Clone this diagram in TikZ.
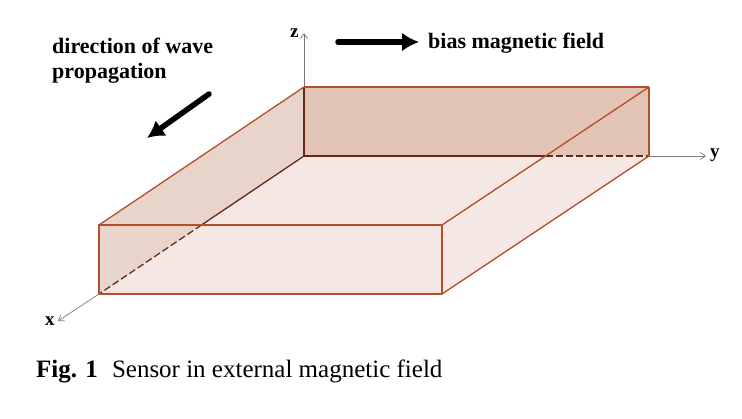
\documentclass[tikz,border=0pt]{standalone}
\usepackage{fontspec}
\setmainfont{Liberation Serif}
\usetikzlibrary{arrows.meta,calc}
\definecolor{edgebrown}{RGB}{180,80,40}
\definecolor{darkbrown}{RGB}{105,40,20}
\definecolor{lightface}{RGB}{245,232,228}
\definecolor{sideface}{RGB}{233,212,204}
\definecolor{backface}{RGB}{226,196,183}
\definecolor{axisgray}{RGB}{120,120,120}
\tikzset{
  axis/.style={draw=axisgray,line width=0.7pt,-{Straight Barb[length=5pt,width=7pt]}},
  boxedge/.style={draw=edgebrown,line width=1.3pt,line join=round},
  hidden/.style={draw=darkbrown,line width=1.3pt,dash pattern=on 7pt off 3pt},
  bigarrow/.style={line width=5.5pt,line cap=round,-{Latex[length=17pt,width=19pt]}},
  label/.style={font=\fontsize{22}{25}\selectfont\bfseries,inner sep=0pt}
}
\begin{document}
\begin{tikzpicture}[x=1pt,y=-1pt]
      \useasboundingbox (0,0) rectangle (742,418);
      \path
        (99,225) coordinate (ftl)
        (442,225) coordinate (ftr)
        (442,294) coordinate (fbr)
        (99,294) coordinate (fbl)
        (304,87) coordinate (btl)
        (649,87) coordinate (btr)
        (649,156) coordinate (bbr)
        (304,156) coordinate (bbl);
      \coordinate (lcross) at ($(bbl)!0.5!(fbl)$);
      \coordinate (rcross) at ($(btr)!0.5!(ftr)$);
      % faces
      \fill[lightface] (ftl) -- (btl) -- (btr) -- (bbr) -- (fbr) -- (fbl) -- cycle;
      \fill[sideface] (ftl) -- (btl) -- (bbl) -- (fbl) -- cycle;
      \fill[backface] (btl) -- (btr) -- (bbr) -- (bbl) -- cycle;
      % axes
      \coordinate (ztip) at (304,33);
      \coordinate (ytip) at (706,156);
      \coordinate (xtip) at (58,321);
      \draw[axis] (btl) to (ztip);
      \draw[axis] (bbr) to (ytip);
      \draw[axis] (fbl) to (xtip);
      \node[label,font=\fontsize{19}{19}\selectfont\bfseries,anchor=base west] (zlab) at (290,37) {z};
      \node[label,font=\fontsize{19}{19}\selectfont\bfseries,anchor=base west] (ylab) at (710,157) {y};
      \node[label,font=\fontsize{19}{19}\selectfont\bfseries,anchor=base west] (xlab) at (45,325) {x};
      % hidden edges
      \begin{scope}[darkbrown,line width=1.3pt]
        \draw (btl) to (bbl);
        \draw (bbl) to (lcross);
        \draw (bbl) to (rcross);
        \draw[hidden] (lcross) to (fbl);
        \draw[hidden] (rcross) to (bbr);
      \end{scope}
      % visible edges
      \begin{scope}[boxedge]
        \draw (ftl) -- (ftr) -- (fbr) -- (fbl) -- cycle;
        \draw (ftl) to (btl);
        \draw (btl) to (btr);
        \draw (btr) to (ftr);
        \draw (btr) to (bbr);
        \draw (bbr) to (fbr);
      \end{scope}
      % field and wave
      \coordinate (biastail) at (338,42);
      \coordinate (biastip) at (419,42);
      \coordinate (wavetail) at (209,94);
      \coordinate (wavetip) at (147,138);
      \draw[bigarrow] (biastail) to (biastip);
      \draw[bigarrow] (wavetail) to (wavetip);
      \node[label,anchor=base west] (bias) at (428,48) {bias magnetic field};
      \node[label,anchor=north west,align=left] (wave) at (52,38) {direction of wave\\propagation};
      \node[inner sep=0pt,anchor=base west,font=\fontsize{25}{25}\selectfont] (caption) at (36,377)
        {\textbf{Fig. 1}\hspace{14pt}Sensor in external magnetic field};
    \end{tikzpicture}
\end{document}
